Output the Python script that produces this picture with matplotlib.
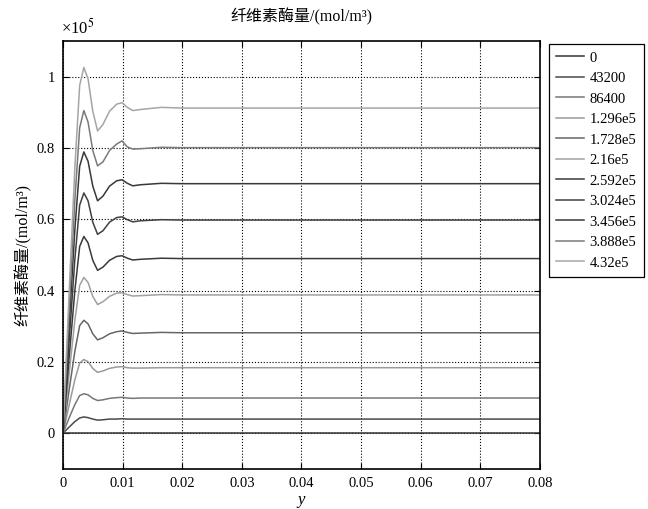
import matplotlib
matplotlib.use("Agg")
import matplotlib.pyplot as plt

plt.rcParams["font.family"] = ["Liberation Serif", "Noto Sans CJK SC", "DejaVu Sans"]
plt.rcParams["mathtext.fontset"] = "stix"

# shared time axis (x) and curves in units of 1e5 mol/m^2
x = [0, 0.001, 0.002, 0.0028, 0.0035, 0.0042, 0.005, 0.0058, 0.0067, 0.0078,
     0.009, 0.0099, 0.0108, 0.0117, 0.013, 0.0165, 0.02, 0.08]

labels = ["0", "43200", "86400", "1.296e5", "1.728e5", "2.16e5",
          "2.592e5", "3.024e5", "3.456e5", "3.888e5", "4.32e5"]

c0 = [0] * 18
c1 = [0, 0.017, 0.033, 0.043, 0.046, 0.044, 0.040, 0.037, 0.038, 0.040,
      0.040, 0.041, 0.040, 0.040, 0.040, 0.040, 0.040, 0.040]
c2 = [0, 0.042, 0.081, 0.106, 0.111, 0.108, 0.098, 0.092, 0.094, 0.098,
      0.100, 0.101, 0.099, 0.098, 0.099, 0.099, 0.099, 0.099]
c3 = [0, 0.077, 0.151, 0.197, 0.207, 0.201, 0.182, 0.171, 0.175, 0.182,
      0.186, 0.187, 0.184, 0.183, 0.183, 0.184, 0.184, 0.184]
c4 = [0, 0.118, 0.231, 0.302, 0.317, 0.307, 0.279, 0.262, 0.268, 0.279,
      0.285, 0.287, 0.283, 0.280, 0.281, 0.283, 0.282, 0.282]
c5 = [0, 0.163, 0.318, 0.415, 0.437, 0.423, 0.384, 0.361, 0.369, 0.384,
      0.393, 0.394, 0.389, 0.385, 0.386, 0.389, 0.388, 0.388]
c6 = [0, 0.206, 0.402, 0.524, 0.552, 0.534, 0.485, 0.457, 0.466, 0.485,
      0.496, 0.498, 0.491, 0.486, 0.488, 0.491, 0.490, 0.490]
c7 = [0, 0.251, 0.490, 0.640, 0.674, 0.652, 0.592, 0.558, 0.568, 0.592,
      0.605, 0.607, 0.599, 0.593, 0.596, 0.599, 0.598, 0.598]
c8 = [0, 0.294, 0.574, 0.749, 0.789, 0.763, 0.693, 0.652, 0.665, 0.693,
      0.708, 0.711, 0.701, 0.694, 0.697, 0.701, 0.700, 0.700]
c9 = [0, 0.336, 0.657, 0.857, 0.905, 0.873, 0.793, 0.750, 0.761, 0.793,
      0.811, 0.820, 0.803, 0.797, 0.798, 0.802, 0.801, 0.801]
c10 = [0, 0.383, 0.748, 0.976, 1.026, 0.994, 0.903, 0.848, 0.866, 0.903,
       0.923, 0.927, 0.914, 0.905, 0.908, 0.914, 0.912, 0.912]
curves = [c0, c1, c2, c3, c4, c5, c6, c7, c8, c9, c10]

greys = ["#333333", "#4a4a4a", "#777777", "#9a9a9a", "#666666", "#a0a0a0",
         "#3a3a3a", "#404040", "#383838", "#7a7a7a", "#a5a5a5"]

fig = plt.figure(figsize=(6.48, 5.09), dpi=100)
ax = fig.add_axes([0.0972, 0.0786, 0.7361, 0.8408])

for y, lab, col in zip(curves, labels, greys):
    ax.plot(x, y, color=col, lw=1.1, label=lab)

ax.set_xlim(0, 0.08)
ax.set_ylim(-0.1, 1.1)
ax.set_xticks([0, 0.01, 0.02, 0.03, 0.04, 0.05, 0.06, 0.07, 0.08])
ax.set_xticklabels(["0", "0.01", "0.02", "0.03", "0.04", "0.05", "0.06", "0.07", "0.08"])
ax.set_yticks([0, 0.2, 0.4, 0.6, 0.8, 1.0])
ax.set_yticklabels(["0", "0.2", "0.4", "0.6", "0.8", "1"])
ax.grid(True, color="black", ls=":", lw=0.8)
ax.tick_params(direction="in", top=True, right=True, labelsize=10.5, length=4, pad=6)
for s in ax.spines.values():
    s.set_linewidth(1.2)

ax.set_title("纤维素酶量/(mol/m³)", fontsize=11.5, pad=14)
ax.set_xlabel("y", fontsize=12, fontstyle="italic", labelpad=1)
ax.set_ylabel("纤维素酶量/(mol/m³)", fontsize=11.5, labelpad=3)
ax.text(-0.005, 1.008, "×10$^5$", transform=ax.transAxes, fontsize=12,
        ha="left", va="bottom")

leg = ax.legend(loc="upper left", bbox_to_anchor=(1.018, 0.993), fontsize=10.5,
                frameon=True, fancybox=False, edgecolor="black", framealpha=1,
                handlelength=1.9, labelspacing=0.5, borderaxespad=0,
                handletextpad=0.4, borderpad=0.5)
leg.get_frame().set_linewidth(0.9)

fig.savefig("out.png", dpi=100)
